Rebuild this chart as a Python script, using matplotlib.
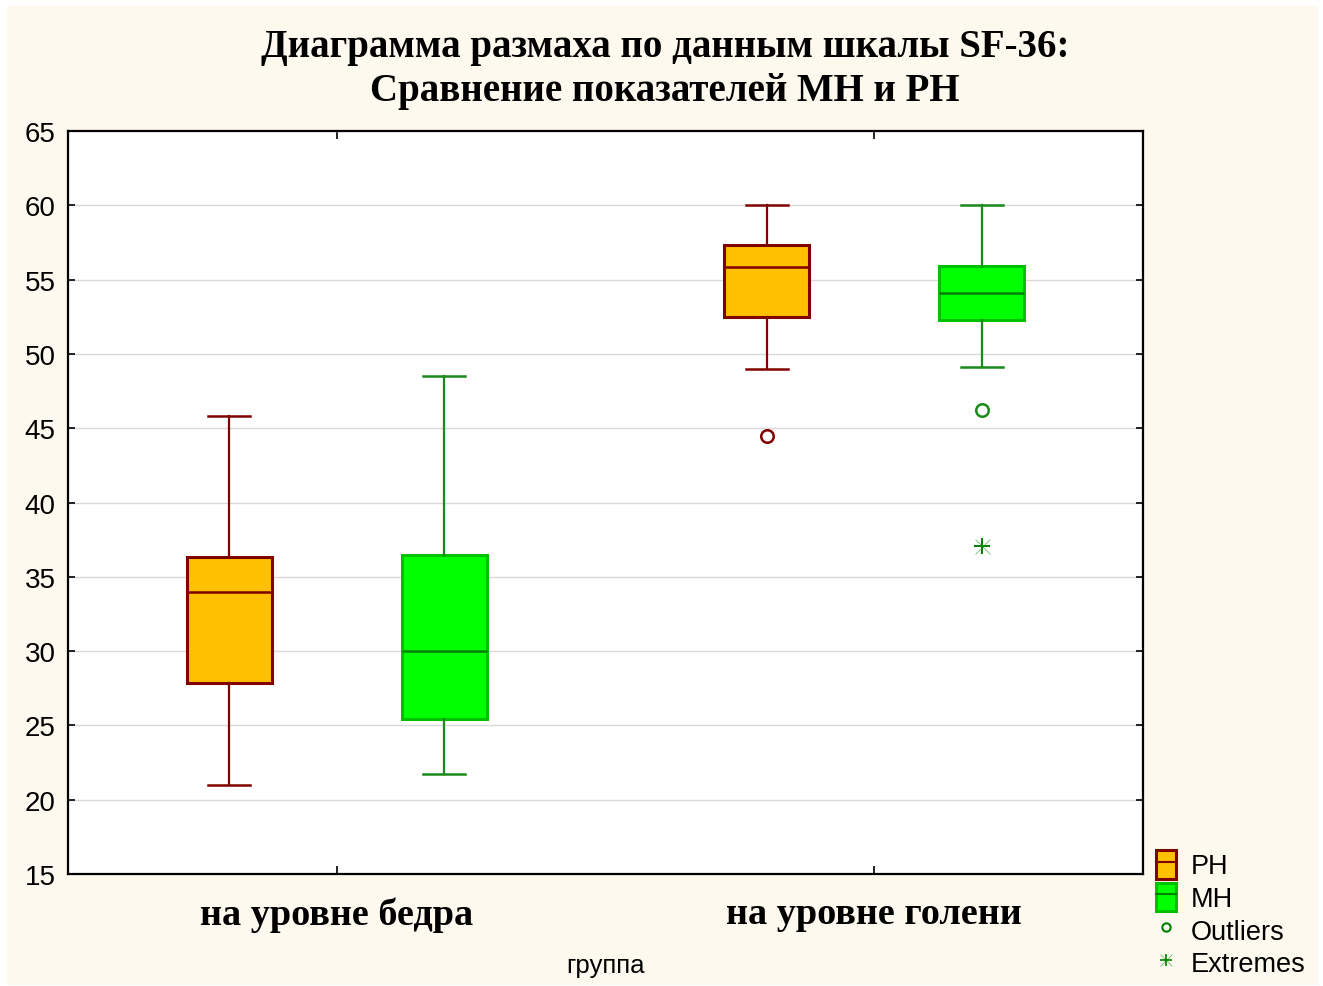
import matplotlib
matplotlib.use("Agg")
import matplotlib.pyplot as plt
from matplotlib.patches import Patch, Rectangle
from matplotlib.lines import Line2D

# groups and series
groups = ["на уровне бедра", "на уровне голени"]
series = ["PH", "MH"]

# whisker low, q1, median, q3, whisker high per group
ph_low = [21.0, 49.0]
ph_q1 = [27.85, 52.5]
ph_med = [34.0, 55.85]
ph_q3 = [36.3, 57.3]
ph_high = [45.8, 60.0]
ph_outliers = [[], [44.5]]
ph_extremes = [[], []]

mh_low = [21.7, 49.1]
mh_q1 = [25.4, 52.3]
mh_med = [30.0, 54.1]
mh_q3 = [36.5, 55.9]
mh_high = [48.5, 60.0]
mh_outliers = [[], [46.2]]
mh_extremes = [[], [37.1]]

yticks = [15, 20, 25, 30, 35, 40, 45, 50, 55, 60, 65]

CREAM = "#FEF9EE"
PH_FILL, PH_EDGE = "#FFC000", "#800000"
MH_FILL, MH_EDGE, MH_LINE = "#00FF00", "#00C000", "#1A8A1A"


def make_stats(low, q1, med, q3, high):
    return [{"whislo": a, "q1": b, "med": c, "q3": d, "whishi": e, "fliers": []}
            for a, b, c, d, e in zip(low, q1, med, q3, high)]


def extreme_marks(ax, x, y, color, size):
    # plus sign with faint diagonal ticks, like the original "extreme" symbol
    ax.plot(x, y, linestyle="none", marker="x", markersize=size * 0.9, color=color,
            markeredgewidth=0.6, alpha=0.55)
    ax.plot(x, y, linestyle="none", marker="+", markersize=size, color=color,
            markeredgewidth=1.4)


fig = plt.figure(figsize=(13.23, 9.87), dpi=100, facecolor="white")
fig.patches.append(Rectangle((7 / 1323, 1 / 987), 1311 / 1323, 979 / 987,
                             transform=fig.transFigure, facecolor=CREAM,
                             edgecolor="none", zorder=-10))

ax = fig.add_axes([68 / 1323, 112 / 987, 1075 / 1323, 743 / 987])
ax.set_facecolor("white")

centers = [0.5, 1.5]
off = 0.2
bw = 0.158

specs = [
    (ph_low, ph_q1, ph_med, ph_q3, ph_high, ph_outliers, ph_extremes, -off, PH_FILL, PH_EDGE, PH_EDGE, PH_EDGE),
    (mh_low, mh_q1, mh_med, mh_q3, mh_high, mh_outliers, mh_extremes, off, MH_FILL, MH_EDGE, MH_LINE, "#008000"),
]
for low, q1, med, q3, high, outl, extr, dx, fill, edge, line, med_c in specs:
    pos = [c + dx for c in centers]
    ax.bxp(make_stats(low, q1, med, q3, high), positions=pos, widths=bw,
           patch_artist=True, showfliers=False, capwidths=0.078,
           boxprops=dict(facecolor=fill, edgecolor=edge, linewidth=2.2),
           whiskerprops=dict(color=line, linewidth=1.6),
           capprops=dict(color=line, linewidth=1.8),
           medianprops=dict(color=med_c, linewidth=1.8))
    for p, vals in zip(pos, outl):
        ax.plot([p] * len(vals), vals, linestyle="none", marker="o", markersize=9,
                markerfacecolor="none", markeredgecolor=line, markeredgewidth=1.8)
    for p, vals in zip(pos, extr):
        extreme_marks(ax, [p] * len(vals), vals, "#008000", 12)

ax.set_xlim(0, 2)
ax.set_ylim(15, 65)
ax.set_yticks(yticks)
ax.set_xticks(centers)
ax.set_xticklabels(groups, fontfamily="Liberation Serif", fontweight="bold", fontsize=27.5)
ax.tick_params(axis="y", labelsize=20, direction="in", length=5, width=1.2, right=True, pad=9)
ax.tick_params(axis="x", direction="in", length=6, width=1.2, top=True, pad=16)
for lbl in ax.get_yticklabels():
    lbl.set_fontfamily("Liberation Sans")
ax.grid(axis="y", color="#D9D9D9", linewidth=1.0)
ax.set_axisbelow(True)
for s in ax.spines.values():
    s.set_linewidth(1.6)

fig.text(605 / 1323, 1 - 966 / 987, "группа", ha="center", va="center",
         fontfamily="Liberation Sans", fontsize=18.5)

fig.text(665 / 1323, 1 - 47 / 987, "Диаграмма размаха по данным шкалы SF-36:",
         ha="center", va="center", fontfamily="Liberation Serif", fontweight="bold", fontsize=28)
fig.text(665 / 1323, 1 - 92 / 987, "Сравнение показателей MH и PH",
         ha="center", va="center", fontfamily="Liberation Serif", fontweight="bold", fontsize=28)

# legend
mid = lambda c: Line2D([], [], color=c, linewidth=1.5)
handles = [
    (Patch(facecolor=PH_FILL, edgecolor=PH_EDGE, linewidth=2.2), mid(PH_EDGE)),
    (Patch(facecolor=MH_FILL, edgecolor=MH_EDGE, linewidth=2.2), mid("#008000")),
    Line2D([], [], linestyle="none", marker="o", markersize=6, markerfacecolor="none",
           markeredgecolor="#008000", markeredgewidth=1.5),
    (Line2D([], [], linestyle="none", marker="x", markersize=8, color="#008000",
            markeredgewidth=0.6, alpha=0.55),
     Line2D([], [], linestyle="none", marker="+", markersize=9, color="#008000",
            markeredgewidth=1.2)),
]
fig.legend(handles, ["PH", "MH", "Outliers", "Extremes"],
           loc="upper left", bbox_to_anchor=(1137 / 1323, 1 - 832 / 987),
           frameon=False, prop={"family": "Liberation Sans", "size": 19.5},
           handlelength=0.75, handleheight=1.25, handletextpad=0.55, labelspacing=0.12,
           borderpad=0.2)

fig.savefig("out.png", dpi=100, facecolor=fig.get_facecolor())
